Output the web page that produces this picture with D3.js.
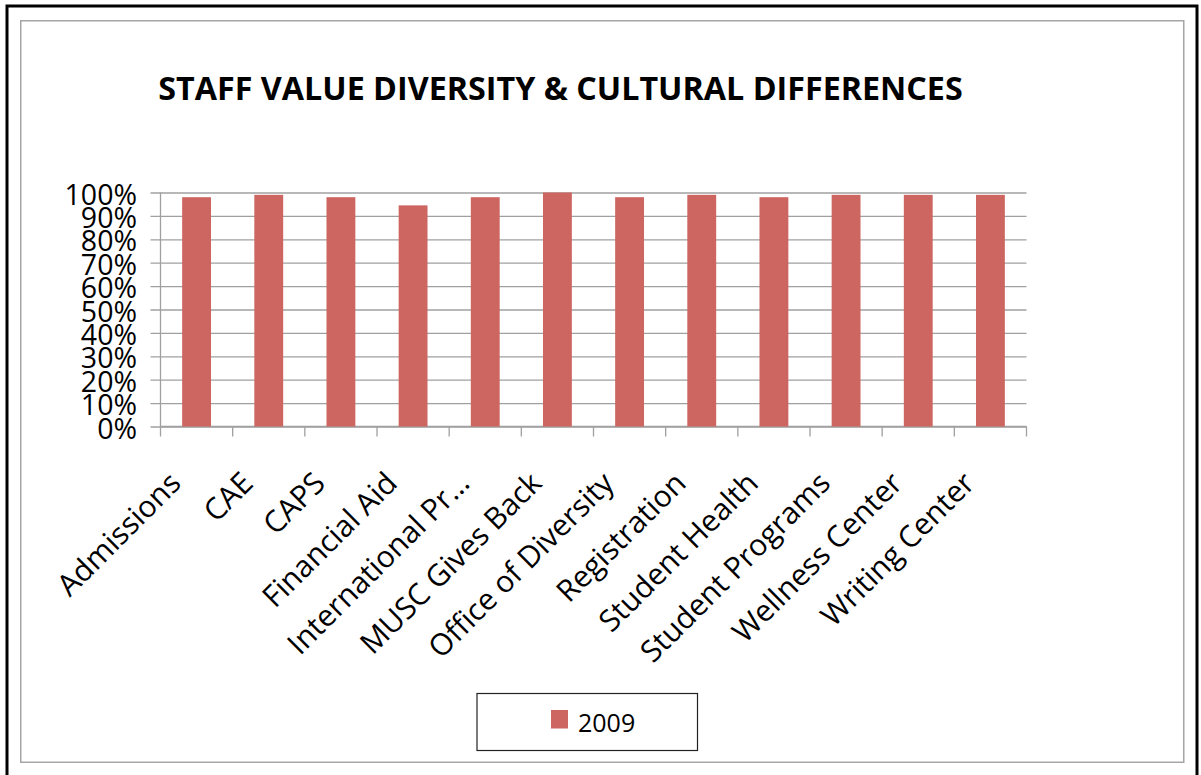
<!DOCTYPE html>
<html>
<head>
<meta charset="utf-8">
<script src="https://cdn.jsdelivr.net/npm/d3@7"></script>
<style>
  html, body { margin: 0; padding: 0; background: #fff; }
  svg { display: block; }
  text { font-family: "Open Sans", "Noto Sans", sans-serif; fill: #000; }
</style>
</head>
<body>
<div id="chart"></div>
<script>
// chart data
const titleText = "STAFF VALUE DIVERSITY & CULTURAL DIFFERENCES";
const categories = ["Admissions", "CAE", "CAPS", "Financial Aid", "International Pr…",
    "MUSC Gives Back", "Office of Diversity", "Registration", "Student Health",
    "Student Programs", "Wellness Center", "Writing Center"];
const values2009 = [0.98, 0.99, 0.98, 0.945, 0.98, 1.00, 0.98, 0.99, 0.98, 0.99, 0.99, 0.99];
const seriesName = "2009";
const yTickValues = [0, 0.1, 0.2, 0.3, 0.4, 0.5, 0.6, 0.7, 0.8, 0.9, 1.0];

const W = 1201, H = 775;
const barColor = "#cd6661";
const gridColor = "#a0a0a0";

let svg = d3.select("#chart").append("svg")
    .attr("width", W)
    .attr("height", H);

svg.append("rect").attr("width", W).attr("height", H).attr("fill", "#fff");

// outer page frame (bottom edge runs off the picture)
svg.append("rect")
    .attr("x", 7).attr("y", 6)
    .attr("width", 1190).attr("height", 820)
    .attr("fill", "none")
    .attr("stroke", "#000")
    .attr("stroke-width", 3);

// chart area border
svg.append("rect")
    .attr("x", 20.75).attr("y", 20.75)
    .attr("width", 1163).attr("height", 741.5)
    .attr("fill", "none")
    .attr("stroke", "#a6a6a6")
    .attr("stroke-width", 1.5);

// title, fitted to the width it has in the original
let title = svg.append("text")
    .attr("x", 560.5)
    .attr("y", 100)
    .attr("text-anchor", "middle")
    .attr("font-weight", 700)
    .attr("font-size", 33)
    .text(titleText);
let tw = title.node().getComputedTextLength();
title.attr("font-size", 33 * 805 / tw);

// plot area
let plot = {left: 160.5, right: 1026.5, top: 192.5, bottom: 426.5};

let x = d3.scaleBand()
    .domain(categories)
    .range([plot.left, plot.right])
    .paddingInner(0.6)
    .paddingOuter(0.3);

let xOuter = d3.scaleBand()
    .domain(categories)
    .range([plot.left, plot.right]);

let y = d3.scaleLinear()
    .domain([0, 1])
    .range([plot.bottom, plot.top]);

// gridlines + left tick marks
svg.append("g")
    .attr("transform", `translate(${plot.right},0)`)
    .call(d3.axisLeft(y).tickValues(yTickValues)
        .tickSize(plot.right - plot.left + 10).tickFormat(""))
    .call(g => g.select(".domain").remove())
    .call(g => g.selectAll(".tick line").attr("stroke", gridColor).attr("stroke-width", 1.3));

// y tick labels
svg.selectAll(".y-label")
    .data(yTickValues)
    .enter()
    .append("text")
    .attr("class", "y-label")
    .attr("x", 137)
    .attr("y", d => y(d) + 12)
    .attr("text-anchor", "end")
    .attr("font-size", 28.5)
    .text(d => d3.format(".0%")(d));

// vertical axis line
svg.append("line")
    .attr("x1", plot.left).attr("x2", plot.left)
    .attr("y1", plot.top).attr("y2", plot.bottom)
    .attr("stroke", gridColor).attr("stroke-width", 1.3);

// category axis with ticks between categories
let boundaries = categories.map(c => xOuter(c)).concat([plot.right]);
svg.append("line")
    .attr("x1", plot.left).attr("x2", plot.right)
    .attr("y1", plot.bottom).attr("y2", plot.bottom)
    .attr("stroke", gridColor).attr("stroke-width", 1.3);

svg.selectAll(".x-tick")
    .data(boundaries)
    .enter()
    .append("line")
    .attr("class", "x-tick")
    .attr("x1", d => d).attr("x2", d => d)
    .attr("y1", plot.bottom).attr("y2", plot.bottom + 10)
    .attr("stroke", gridColor).attr("stroke-width", 1.3);

// bars
svg.selectAll(".bar")
    .data(values2009)
    .enter()
    .append("rect")
    .attr("class", "bar")
    .attr("x", (d, i) => x(categories[i]))
    .attr("y", d => y(d))
    .attr("width", x.bandwidth())
    .attr("height", d => plot.bottom - y(d))
    .attr("fill", barColor);

// rotated category labels
svg.selectAll(".x-label")
    .data(categories)
    .enter()
    .append("text")
    .attr("class", "x-label")
    .attr("text-anchor", "end")
    .attr("font-size", 30)
    .attr("transform", d => `translate(${xOuter(d) + xOuter.bandwidth() / 2 - 14},485) rotate(-45)`)
    .text(d => d);

// legend
let legend = svg.append("g").attr("transform", "translate(477,693.5)");
legend.append("rect")
    .attr("width", 220.5).attr("height", 57)
    .attr("fill", "#fff")
    .attr("stroke", "#222")
    .attr("stroke-width", 1.2);
legend.append("rect")
    .attr("x", 74).attr("y", 16.5)
    .attr("width", 17).attr("height", 18.5)
    .attr("fill", barColor);
legend.append("text")
    .attr("x", 101).attr("y", 38)
    .attr("font-size", 25)
    .text(seriesName);
</script>
</body>
</html>
